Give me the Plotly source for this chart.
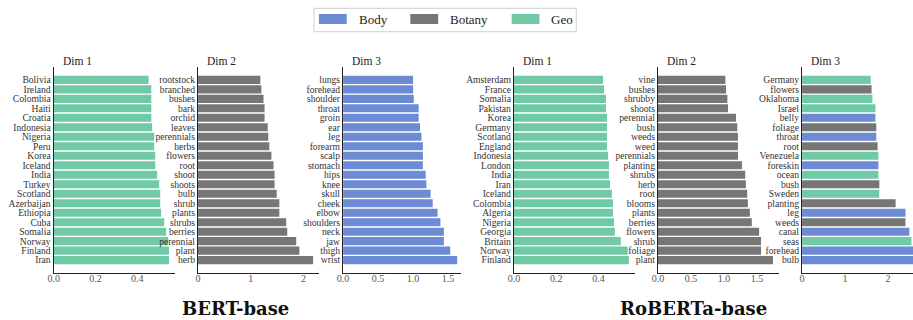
import plotly.graph_objects as go

W, H = 913, 320

COLORS = {"Body": "#6d8ad5", "Botany": "#767676", "Geo": "#71caa6"}
LEGEND_ORDER = ["Body", "Botany", "Geo"]

bert_d1_labels = ["Bolivia", "Ireland", "Colombia", "Haiti", "Croatia", "Indonesia", "Nigeria", "Peru",
                  "Korea", "Iceland", "India", "Turkey", "Scotland", "Azerbaijan", "Ethiopia", "Cuba",
                  "Somalia", "Norway", "Finland", "Iran"]
bert_d1_values = [0.454, 0.467, 0.467, 0.467, 0.467, 0.471, 0.481, 0.481, 0.486, 0.486,
                  0.495, 0.505, 0.510, 0.510, 0.514, 0.529, 0.538, 0.548, 0.552, 0.552]
bert_d1_groups = ["Geo"] * 20

bert_d2_labels = ["rootstock", "branched", "bushes", "bark", "orchid", "leaves", "perennials", "herbs",
                  "flowers", "root", "shoot", "shoots", "bulb", "shrub", "plants", "shrubs", "berries",
                  "perennial", "plant", "herb"]
bert_d2_values = [1.18, 1.20, 1.24, 1.26, 1.26, 1.32, 1.33, 1.35, 1.39, 1.43,
                  1.45, 1.45, 1.49, 1.54, 1.54, 1.67, 1.69, 1.86, 1.92, 2.18]
bert_d2_groups = ["Botany"] * 20

bert_d3_labels = ["lungs", "forehead", "shoulder", "throat", "groin", "ear", "leg", "forearm", "scalp",
                  "stomach", "hips", "knee", "skull", "cheek", "elbow", "shoulders", "neck", "jaw",
                  "thigh", "wrist"]
bert_d3_values = [1.00, 1.00, 1.01, 1.08, 1.08, 1.10, 1.12, 1.14, 1.14, 1.14,
                  1.18, 1.19, 1.25, 1.28, 1.35, 1.39, 1.44, 1.44, 1.53, 1.63]
bert_d3_groups = ["Body"] * 20

rob_d1_labels = ["Amsterdam", "France", "Somalia", "Pakistan", "Korea", "Germany", "Scotland", "England",
                 "Indonesia", "London", "India", "Iran", "Iceland", "Colombia", "Algeria", "Nigeria",
                 "Georgia", "Britain", "Norway", "Finland"]
rob_d1_values = [0.421, 0.426, 0.435, 0.435, 0.440, 0.440, 0.440, 0.440, 0.445, 0.449,
                 0.449, 0.454, 0.463, 0.468, 0.468, 0.473, 0.477, 0.505, 0.538, 0.543]
rob_d1_groups = ["Geo"] * 20

rob_d2_labels = ["vine", "bushes", "shrubby", "shoots", "perennial", "bush", "weeds", "weed", "perennials",
                 "planting", "shrubs", "herb", "root", "blooms", "plants", "berries", "flowers", "shrub",
                 "foliage", "plant"]
rob_d2_values = [1.02, 1.03, 1.05, 1.06, 1.18, 1.20, 1.21, 1.21, 1.21, 1.27,
                 1.32, 1.33, 1.35, 1.36, 1.39, 1.42, 1.53, 1.56, 1.56, 1.74]
rob_d2_groups = ["Botany"] * 20

rob_d3_labels = ["Germany", "flowers", "Oklahoma", "Israel", "belly", "foliage", "throat", "root",
                 "Venezuela", "foreskin", "ocean", "bush", "Sweden", "planting", "leg", "weeds", "canal",
                 "seas", "forehead", "bulb"]
rob_d3_values = [1.60, 1.62, 1.64, 1.71, 1.71, 1.73, 1.73, 1.76, 1.78, 1.78,
                 1.78, 1.80, 1.80, 2.18, 2.41, 2.41, 2.50, 2.55, 2.63, 2.67]
rob_d3_groups = ["Geo", "Botany", "Geo", "Geo", "Body", "Botany", "Body", "Botany", "Geo", "Body",
                 "Geo", "Botany", "Geo", "Botany", "Body", "Botany", "Body", "Geo", "Body", "Body"]

panel_titles = ["Dim 1", "Dim 2", "Dim 3", "Dim 1", "Dim 2", "Dim 3"]
model_titles = ["BERT-base", "RoBERTa-base"]

panels = [
    (bert_d1_labels, bert_d1_values, bert_d1_groups),
    (bert_d2_labels, bert_d2_values, bert_d2_groups),
    (bert_d3_labels, bert_d3_values, bert_d3_groups),
    (rob_d1_labels, rob_d1_values, rob_d1_groups),
    (rob_d2_labels, rob_d2_values, rob_d2_groups),
    (rob_d3_labels, rob_d3_values, rob_d3_groups),
]

# layout (pixels)
x_px = [(48, 170), (193.3, 315), (339.3, 457.7), (511.3, 632.7), (656.3, 777.7), (801.3, 913)]
x_ranges = [[0, 0.58], [0, 2.29], [0, 1.68], [0, 0.57], [0, 1.825], [0, 2.585]]
x_ticks = [[0, 0.2, 0.4], [0, 1, 2], [0, 0.5, 1.0, 1.5], [0, 0.2, 0.4], [0, 0.5, 1.0, 1.5], [0, 1, 2]]
x_fmt = [".1f", "d", ".1f", ".1f", ".1f", "d"]
y_top_px, y_bot_px = 66.7, 273.3
y_dom = [(H - y_bot_px) / H, (H - y_top_px) / H]

SERIF = "Liberation Serif"
fig = go.Figure()
layout = dict(
    width=W, height=H, margin=dict(l=0, r=0, t=0, b=0),
    paper_bgcolor="white", plot_bgcolor="white", showlegend=False,
    font=dict(family=SERIF, size=10, color="#333333"),
)
annotations = []
shapes = []

for i, (labels, values, groups) in enumerate(panels):
    n = i + 1
    xa = "x" if n == 1 else f"x{n}"
    ya = "y" if n == 1 else f"y{n}"
    fig.add_trace(go.Bar(
        x=values, y=labels, orientation="h",
        marker=dict(color=[COLORS[g] for g in groups], line=dict(width=0)),
        width=0.85, xaxis=xa, yaxis=ya, hoverinfo="x+y",
    ))
    x0, x1 = x_px[i]
    layout["xaxis" if n == 1 else f"xaxis{n}"] = dict(
        domain=[x0 / W, x1 / W], anchor=ya, range=x_ranges[i],
        tickmode="array", tickvals=x_ticks[i], tickformat=x_fmt[i],
        showgrid=False, zeroline=False,
        showline=True, linecolor="#222222", linewidth=1.2, ticks="",
        ticklabelstandoff=-4,
        tickfont=dict(family=SERIF, size=10, color="#555555"), fixedrange=True,
    )
    layout["yaxis" if n == 1 else f"yaxis{n}"] = dict(
        domain=y_dom, anchor=xa, type="category",
        categoryorder="array", categoryarray=labels,
        tickmode="array", tickvals=labels, ticktext=labels,
        range=[len(labels) - 1 + 1.39, -1.39],
        showgrid=False, zeroline=False, showline=True, linecolor="#222222", linewidth=1.2,
        ticks="", ticklabelstandoff=0,
        tickfont=dict(family=SERIF, size=9.6, color="#333333"), fixedrange=True,
    )
    annotations.append(dict(
        text=panel_titles[i], xref="paper", yref="paper",
        x=(x0 + 7) / W, y=(H - 61) / H, xanchor="left", yanchor="middle",
        showarrow=False, font=dict(family=SERIF, size=11.5, color="#222222"),
    ))

# model titles
for name, cx in zip(model_titles, [231, 692]):
    annotations.append(dict(
        text=f"<b>{name}</b>", xref="paper", yref="paper",
        x=cx / W, y=0, xanchor="center", yanchor="bottom", borderpad=0,
        showarrow=False, font=dict(family="DejaVu Serif", size=18, color="#111111"),
    ))

# legend (manual, wide swatches)
shapes.append(dict(type="rect", xref="paper", yref="paper",
                   x0=310 / W, x1=574 / W, y0=(H - 31.7) / H, y1=(H - 8.3) / H,
                   line=dict(color="#d0d0d0", width=1), fillcolor="white"))
sw_x = [315, 407, 509]
for name, sx in zip(LEGEND_ORDER, sw_x):
    shapes.append(dict(type="rect", xref="paper", yref="paper",
                       x0=sx / W, x1=(sx + 28) / W, y0=(H - 24) / H, y1=(H - 14) / H,
                       line=dict(width=0), fillcolor=COLORS[name]))
    annotations.append(dict(
        text=name, xref="paper", yref="paper", x=(sx + 38) / W, y=(H - 19.5) / H,
        xanchor="left", yanchor="middle", showarrow=False,
        font=dict(family=SERIF, size=13, color="#222222"),
    ))

layout["annotations"] = annotations
layout["shapes"] = shapes
fig.update_layout(**layout)
fig.write_html(
    "out.html",
    config={"displayModeBar": False},
    post_script="document.body.style.margin='0';document.body.style.overflow='hidden';",
)
